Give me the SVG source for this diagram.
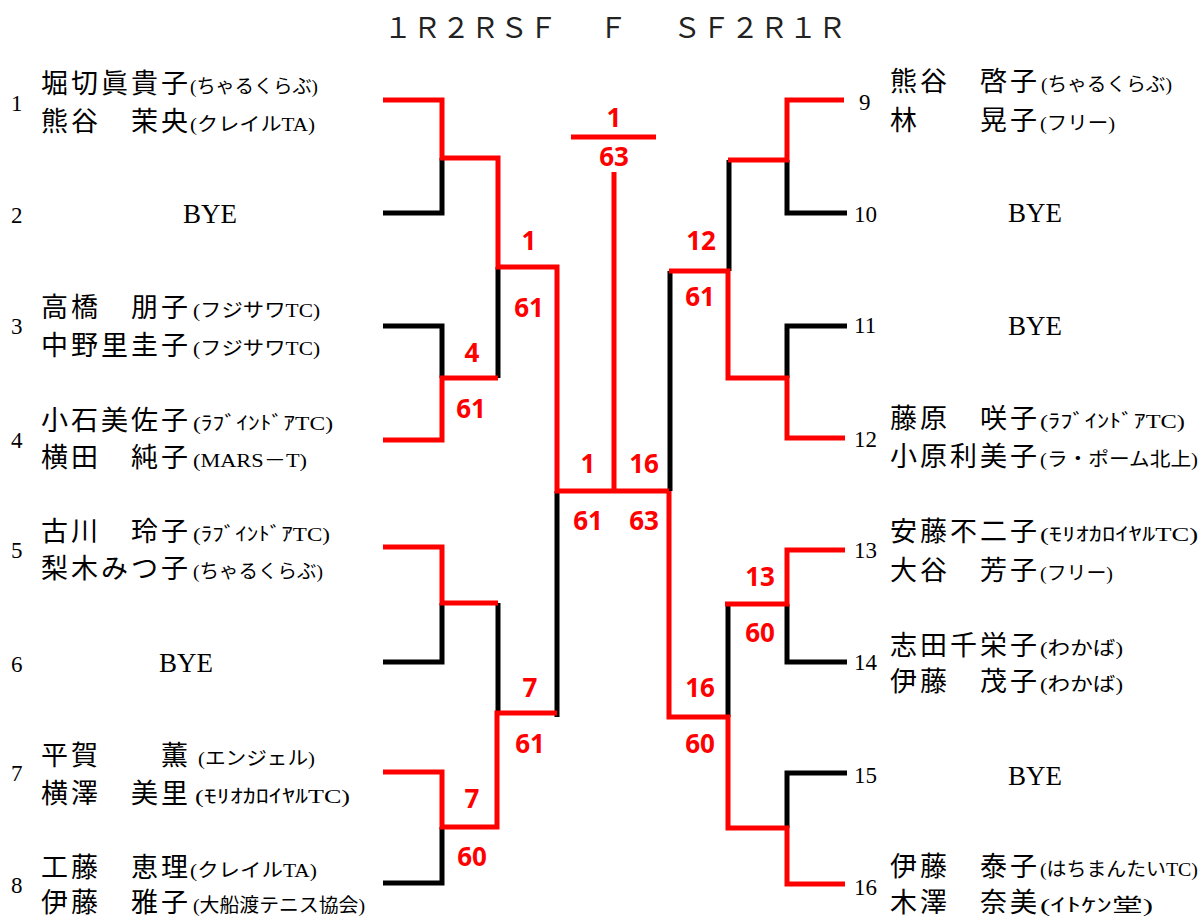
<svg xmlns="http://www.w3.org/2000/svg" width="1204" height="917" viewBox="0 0 1204 917">
<style>
.bg{fill:#fff}
.hd{font-family:"Noto Sans CJK JP",sans-serif;font-size:28px;fill:#222;letter-spacing:1px}
.num{font-family:"Liberation Serif",serif;font-size:23px;fill:#000}
.bye{font-family:"Liberation Serif",serif;font-size:27px;fill:#000;text-anchor:middle}
.nm{font-family:"Noto Sans CJK JP",sans-serif;font-size:27px;fill:#000;letter-spacing:3px}
.cl{font-family:"Liberation Serif","Noto Sans CJK JP",serif;font-size:19px;fill:#000}
.sc{font-family:"Noto Sans","Liberation Sans",sans-serif;font-size:26px;font-weight:bold;fill:#f00;text-anchor:middle}
.bk{fill:none;stroke:#000;stroke-width:5}
.rd{fill:none;stroke:#f00;stroke-width:5}
</style>
<rect class="bg" x="0" y="0" width="1204" height="917"/>
<g id="header">
<text class="hd" x="384" y="38">１Ｒ２ＲＳＦ</text>
<text class="hd" x="613" y="38" text-anchor="middle" style="letter-spacing:0">Ｆ</text>
<text class="hd" x="673" y="38">ＳＦ２Ｒ１Ｒ</text>
</g>
<g id="connectors">
<path class="bk" d="M383,213 H442 V158"/>
<path class="bk" d="M383,326 H442 V378"/>
<path class="bk" d="M498,267 V378"/>
<path class="bk" d="M383,662 H442 V603"/>
<path class="bk" d="M498,603 V713"/>
<path class="bk" d="M383,883 H442 V827"/>
<path class="bk" d="M557,491 V717"/>
<path class="bk" d="M847,213 H787 V160"/>
<path class="bk" d="M729,160 V271"/>
<path class="bk" d="M847,326 H787 V378"/>
<path class="bk" d="M670,271 V491"/>
<path class="bk" d="M847,662 H787 V604"/>
<path class="bk" d="M728,604 V717"/>
<path class="bk" d="M847,773 H787 V828"/>
<path class="rd" d="M383,100 H442 V158 H498 V267 H557 V491 H669"/>
<path class="rd" d="M614,172 V491"/>
<path class="rd" d="M383,440 H442 V378 H498"/>
<path class="rd" d="M383,547 H442 V603 H498"/>
<path class="rd" d="M383,772 H442 V827 H497 V713 H557"/>
<path class="rd" d="M571,137 H656"/>
<path class="rd" d="M844,100 H787 V160 H728"/>
<path class="rd" d="M845,438 H787 V378 H728 V271 H669"/>
<path class="rd" d="M845,550 H787 V604 H725"/>
<path class="rd" d="M845,884 H787 V828 H728 V717 H669 V491"/>
</g>
<g id="scores">
<text class="sc" x="614" y="127">1</text>
<text class="sc" x="614" y="166">63</text>
<text class="sc" x="529" y="250">1</text>
<text class="sc" x="529" y="317">61</text>
<text class="sc" x="472" y="362">4</text>
<text class="sc" x="471" y="418">61</text>
<text class="sc" x="588" y="473">1</text>
<text class="sc" x="644" y="473">16</text>
<text class="sc" x="588" y="530">61</text>
<text class="sc" x="644" y="530">63</text>
<text class="sc" x="530" y="697">7</text>
<text class="sc" x="530" y="753">61</text>
<text class="sc" x="472" y="808">7</text>
<text class="sc" x="472" y="866">60</text>
<text class="sc" x="701" y="250">12</text>
<text class="sc" x="700" y="306">61</text>
<text class="sc" x="760" y="586">13</text>
<text class="sc" x="760" y="642">60</text>
<text class="sc" x="700" y="697">16</text>
<text class="sc" x="700" y="753">60</text>
</g>
<g id="entry1">
<text class="num" x="11" y="111">1</text>
<text class="nm" x="41" y="93">堀切眞貴子</text>
<text class="cl" x="190" y="93" textLength="128" lengthAdjust="spacingAndGlyphs">(ちゃるくらぶ)</text>
<text class="nm" x="41" y="131">熊谷　茉央</text>
<text class="cl" x="190" y="131" textLength="125" lengthAdjust="spacingAndGlyphs">(クレイルTA)</text>
</g>
<g id="entry2">
<text class="num" x="11" y="223">2</text>
<text class="bye" x="210" y="223">BYE</text>
</g>
<g id="entry3">
<text class="num" x="11" y="334">3</text>
<text class="nm" x="41" y="317">高橋　朋子</text>
<text class="cl" x="193" y="317" textLength="127" lengthAdjust="spacingAndGlyphs">(フジサワTC)</text>
<text class="nm" x="41" y="355">中野里圭子</text>
<text class="cl" x="193" y="355" textLength="127" lengthAdjust="spacingAndGlyphs">(フジサワTC)</text>
</g>
<g id="entry4">
<text class="num" x="11" y="448">4</text>
<text class="nm" x="41" y="430">小石美佐子</text>
<text class="cl" x="193" y="430" textLength="140" lengthAdjust="spacingAndGlyphs">(ﾗﾌﾞｲﾝﾄﾞｱTC)</text>
<text class="nm" x="41" y="467">横田　純子</text>
<text class="cl" x="193" y="467" textLength="114" lengthAdjust="spacingAndGlyphs">(MARS－T)</text>
</g>
<g id="entry5">
<text class="num" x="11" y="558">5</text>
<text class="nm" x="41" y="541">古川　玲子</text>
<text class="cl" x="193" y="541" textLength="137" lengthAdjust="spacingAndGlyphs">(ﾗﾌﾞｲﾝﾄﾞｱTC)</text>
<text class="nm" x="41" y="578">梨木みつ子</text>
<text class="cl" x="193" y="578" textLength="130" lengthAdjust="spacingAndGlyphs">(ちゃるくらぶ)</text>
</g>
<g id="entry6">
<text class="num" x="11" y="672">6</text>
<text class="bye" x="186" y="672">BYE</text>
</g>
<g id="entry7">
<text class="num" x="11" y="781">7</text>
<text class="nm" x="41" y="765">平賀　　薫</text>
<text class="cl" x="198" y="765" textLength="117" lengthAdjust="spacingAndGlyphs">(エンジェル)</text>
<text class="nm" x="41" y="803">横澤　美里</text>
<text class="cl" x="195" y="803" textLength="155" lengthAdjust="spacingAndGlyphs">(ﾓﾘｵｶﾛｲﾔﾙTC)</text>
</g>
<g id="entry8">
<text class="num" x="11" y="893">8</text>
<text class="nm" x="41" y="877">工藤　恵理</text>
<text class="cl" x="190" y="877" textLength="127" lengthAdjust="spacingAndGlyphs">(クレイルTA)</text>
<text class="nm" x="41" y="912">伊藤　雅子</text>
<text class="cl" x="193" y="912" textLength="172" lengthAdjust="spacingAndGlyphs">(大船渡テニス協会)</text>
</g>
<g id="entry9">
<text class="num" x="859" y="110">9</text>
<text class="nm" x="890" y="91">熊谷　啓子</text>
<text class="cl" x="1041" y="91" textLength="131" lengthAdjust="spacingAndGlyphs">(ちゃるくらぶ)</text>
<text class="nm" x="890" y="130">林　　晃子</text>
<text class="cl" x="1040" y="130" textLength="75" lengthAdjust="spacingAndGlyphs">(フリー)</text>
</g>
<g id="entry10">
<text class="num" x="854" y="222">10</text>
<text class="bye" x="1035" y="222">BYE</text>
</g>
<g id="entry11">
<text class="num" x="854" y="333">11</text>
<text class="bye" x="1035" y="335">BYE</text>
</g>
<g id="entry12">
<text class="num" x="854" y="447">12</text>
<text class="nm" x="890" y="428">藤原　咲子</text>
<text class="cl" x="1040" y="428" textLength="145" lengthAdjust="spacingAndGlyphs">(ﾗﾌﾞｲﾝﾄﾞｱTC)</text>
<text class="nm" x="890" y="466">小原利美子</text>
<text class="cl" x="1040" y="466" textLength="158" lengthAdjust="spacingAndGlyphs">(ラ・ポーム北上)</text>
</g>
<g id="entry13">
<text class="num" x="854" y="558">13</text>
<text class="nm" x="890" y="541">安藤不二子</text>
<text class="cl" x="1040" y="541" textLength="158" lengthAdjust="spacingAndGlyphs">(ﾓﾘｵｶﾛｲﾔﾙTC)</text>
<text class="nm" x="890" y="580">大谷　芳子</text>
<text class="cl" x="1040" y="580" textLength="73" lengthAdjust="spacingAndGlyphs">(フリー)</text>
</g>
<g id="entry14">
<text class="num" x="854" y="670">14</text>
<text class="nm" x="890" y="655">志田千栄子</text>
<text class="cl" x="1040" y="655" textLength="83" lengthAdjust="spacingAndGlyphs">(わかば)</text>
<text class="nm" x="890" y="691">伊藤　茂子</text>
<text class="cl" x="1040" y="691" textLength="83" lengthAdjust="spacingAndGlyphs">(わかば)</text>
</g>
<g id="entry15">
<text class="num" x="854" y="783">15</text>
<text class="bye" x="1035" y="785">BYE</text>
</g>
<g id="entry16">
<text class="num" x="854" y="895">16</text>
<text class="nm" x="890" y="876">伊藤　泰子</text>
<text class="cl" x="1040" y="876" textLength="158" lengthAdjust="spacingAndGlyphs">(はちまんたいTC)</text>
<text class="nm" x="890" y="912">木澤　奈美</text>
<text class="cl" x="1040" y="912" textLength="113" lengthAdjust="spacingAndGlyphs">(ｲﾄｹﾝ堂)</text>
</g>
</svg>
